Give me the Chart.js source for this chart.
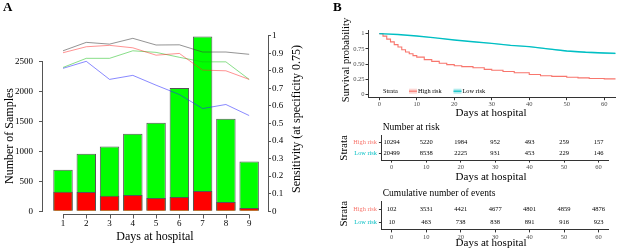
<!DOCTYPE html>
<html>
<head>
<meta charset="utf-8">
<script src="https://cdn.jsdelivr.net/npm/chart.js@4.4.1/dist/chart.umd.min.js"></script>
<style>
html, body { margin: 0; padding: 0; background: #fff; width: 617px; height: 251px; overflow: hidden; }
canvas { position: absolute; }
</style>
</head>
<body>
<canvas id="panelA" width="310" height="251" style="left:0;top:0"></canvas>
<canvas id="kmPlot" width="300" height="120" style="left:332px;top:0"></canvas>
<canvas id="riskTable" width="290" height="64" style="left:332px;top:118px"></canvas>
<canvas id="eventTable" width="290" height="68" style="left:332px;top:183px"></canvas>
<script>
// panel A
var days = [1, 2, 3, 4, 5, 6, 7, 8, 9];
var totalSamples = [692, 958, 1080, 1292, 1475, 2053, 2910, 1542, 830];
var redSamples = [325, 320, 258, 270, 220, 237, 337, 153, 53];
var sensGrey = [0.914, 0.962, 0.952, 0.985, 0.947, 0.948, 0.907, 0.907, 0.894];
var sensRed = [0.903, 0.937, 0.945, 0.931, 0.889, 0.899, 0.804, 0.800, 0.751];
var sensGreen = [0.819, 0.871, 0.871, 0.914, 0.905, 0.877, 0.851, 0.851, 0.751];
var sensBlue = [0.814, 0.854, 0.751, 0.774, 0.718, 0.665, 0.585, 0.608, 0.545];
var sampleTicks = [0, 500, 1000, 1500, 2000, 2500];

// panel B, survival curves
var highDays = [0, 1, 2, 3, 4, 5, 6, 7, 8, 9, 10, 12, 14, 16, 18, 20, 22, 25, 28, 30, 33, 36, 40, 43, 46, 50, 53, 56, 60, 64];
var highSurv = [1, 0.96, 0.91, 0.865, 0.82, 0.78, 0.735, 0.70, 0.67, 0.64, 0.615, 0.575, 0.545, 0.515, 0.492, 0.475, 0.46, 0.44, 0.415, 0.40, 0.38, 0.36, 0.33, 0.31, 0.30, 0.285, 0.275, 0.265, 0.258, 0.252];
var lowDays = [0, 5, 10, 15, 20, 25, 30, 35, 40, 45, 50, 55, 60, 64];
var lowSurv = [1, 0.985, 0.962, 0.93, 0.897, 0.868, 0.84, 0.808, 0.787, 0.75, 0.716, 0.695, 0.682, 0.675];
var bandDays = [0, 10, 20, 30, 40, 50, 60, 64];
var lowUpper = [1, 0.965, 0.901, 0.846, 0.795, 0.727, 0.696, 0.691];
var lowLower = [1, 0.959, 0.893, 0.834, 0.779, 0.705, 0.668, 0.659];
var survTicks = [0, 0.25, 0.5, 0.75, 1];
var survLabels = ['0', '0.25', '0.50', '0.75', '1'];

// panel B, tables
var tableDays = [0, 10, 20, 30, 40, 50, 60];
var strata = ['High risk', 'Low risk'];
var atRiskHigh = [10294, 5220, 1984, 952, 493, 259, 157];
var atRiskLow = [20499, 8538, 2225, 931, 453, 229, 146];
var eventsHigh = [102, 3531, 4421, 4677, 4801, 4859, 4876];
var eventsLow = [10, 463, 738, 838, 891, 916, 923];

var F = '"Liberation Serif", "Times New Roman", serif';
var HIGH = '#F8766D', LOW = '#00BFC4';

function pts(xs, ys) {
  return xs.map(function(x, i) { return {x: x, y: ys[i]}; });
}

// free text (titles, letters) in page coordinates
function notes(items, offX, offY) {
  return {
    id: 'notes',
    afterDraw: function(chart) {
      var ctx = chart.ctx;
      items.forEach(function(t) {
        ctx.save();
        ctx.font = t.font;
        ctx.fillStyle = t.color || '#000';
        ctx.textAlign = t.align || 'center';
        ctx.textBaseline = 'middle';
        ctx.translate(t.x - offX, t.y - offY);
        if (t.rot) ctx.rotate(t.rot);
        ctx.fillText(t.text, 0, 0);
        ctx.restore();
      });
    }
  };
}

// R style axis lines that stop at the first and last tick
var baseAxes = {
  id: 'baseAxes',
  afterDraw: function(chart) {
    var ctx = chart.ctx, a = chart.chartArea;
    var x = chart.scales.x, y = chart.scales.y, y1 = chart.scales.y1;
    ctx.save();
    ctx.strokeStyle = '#555';
    ctx.lineWidth = 1;
    ctx.beginPath();
    var lx = Math.round(a.left) - 0.5;
    ctx.moveTo(lx, y.getPixelForValue(sampleTicks[0]));
    ctx.lineTo(lx, y.getPixelForValue(sampleTicks[sampleTicks.length - 1]));
    var rx = Math.round(a.right) + 0.5;
    ctx.moveTo(rx, y1.getPixelForValue(0));
    ctx.lineTo(rx, y1.getPixelForValue(1));
    var by = Math.round(a.bottom) + 3.5;
    ctx.moveTo(x.getPixelForValue(days[0]), by);
    ctx.lineTo(x.getPixelForValue(days[days.length - 1]), by);
    days.forEach(function(d) {
      var px = Math.round(x.getPixelForValue(d)) + 0.5;
      ctx.moveTo(px, by);
      ctx.lineTo(px, by + 4);
    });
    ctx.stroke();
    ctx.restore();
  }
};

var tickFontA = {family: F, size: 9};

new Chart(document.getElementById('panelA'), {
  type: 'bar',
  data: {
    datasets: [
      {type: 'line', data: pts(days, sensGrey), yAxisID: 'y1', borderColor: 'rgba(60,60,60,0.55)', borderWidth: 1, pointRadius: 0, order: 0},
      {type: 'line', data: pts(days, sensRed), yAxisID: 'y1', borderColor: 'rgba(255,40,40,0.5)', borderWidth: 1, pointRadius: 0, order: 0},
      {type: 'line', data: pts(days, sensGreen), yAxisID: 'y1', borderColor: 'rgba(20,190,20,0.5)', borderWidth: 1, pointRadius: 0, order: 0},
      {type: 'line', data: pts(days, sensBlue), yAxisID: 'y1', borderColor: 'rgba(40,40,255,0.55)', borderWidth: 1, pointRadius: 0, order: 0},
      {type: 'bar', data: pts(days, redSamples), yAxisID: 'y', backgroundColor: '#ff0000', borderColor: '#555', borderWidth: 1, grouped: false, order: 1},
      {type: 'bar', data: pts(days, totalSamples), yAxisID: 'y', backgroundColor: '#00ff00', borderColor: '#555', borderWidth: 1, grouped: false, order: 2}
    ]
  },
  options: {
    responsive: false,
    animation: false,
    layout: {padding: {top: 35.7, left: 0, right: 0, bottom: 0}},
    plugins: {legend: {display: false}, tooltip: {enabled: false}},
    datasets: {bar: {categoryPercentage: 1, barPercentage: 0.835}},
    scales: {
      x: {
        type: 'linear', min: 0.14, max: 9.81, offset: false,
        afterBuildTicks: function(s) { s.ticks = days.map(function(d) { return {value: d}; }); },
        ticks: {font: tickFontA, color: '#000', padding: 7, maxRotation: 0, callback: function(v) { return String(v); }},
        grid: {display: false, drawTicks: false, offset: false},
        border: {display: false},
        afterFit: function(s) { s.height = 39.8; }
      },
      y: {
        position: 'left', min: 0, max: 2925,
        afterBuildTicks: function(s) { s.ticks = sampleTicks.map(function(v) { return {value: v}; }); },
        ticks: {font: tickFontA, color: '#000', padding: 6, callback: function(v) { return String(v); }},
        grid: {drawOnChartArea: false, tickLength: 4, color: '#555'},
        border: {display: false},
        afterFit: function(s) { s.width = 43; }
      },
      y1: {
        position: 'right', min: 0, max: 1,
        ticks: {stepSize: 0.1, font: tickFontA, color: '#000', padding: 1, callback: function(v) { return String(Math.round(v * 10) / 10); }},
        grid: {drawOnChartArea: false, tickLength: 3, color: '#555'},
        border: {display: false},
        afterFit: function(s) { s.width = 42; }
      }
    }
  },
  plugins: [baseAxes, notes([
    {text: 'A', x: 3, y: 8, font: 'bold 13px ' + F, align: 'left'},
    {text: 'Number of Samples', x: 10, y: 136, rot: -Math.PI / 2, font: '12px ' + F},
    {text: 'Sensitivity (at specificity 0.75)', x: 297, y: 119, rot: -Math.PI / 2, font: '12px ' + F},
    {text: 'Days at hospital', x: 155, y: 237, font: '12px ' + F}
  ], 0, 0)]
});

// Kaplan-Meier curves
var smallTick = {family: F, size: 6.5};

var kmLegend = {
  id: 'kmLegend',
  afterDraw: function(chart) {
    var ctx = chart.ctx, a = chart.chartArea;
    var ly = a.bottom - 6.5;
    var lx = a.left + 15;
    ctx.save();
    ctx.font = '6.3px ' + F;
    ctx.textBaseline = 'middle';
    ctx.fillStyle = '#000';
    ctx.fillText('Strata', lx, ly);
    var keys = [[HIGH, 'rgba(248,118,109,0.3)', strata[0], lx + 26], [LOW, 'rgba(0,191,196,0.3)', strata[1], lx + 70.5]];
    keys.forEach(function(k) {
      ctx.fillStyle = k[1];
      ctx.fillRect(k[3], ly - 2.5, 8, 5);
      ctx.strokeStyle = k[0];
      ctx.lineWidth = 1.2;
      ctx.beginPath();
      ctx.moveTo(k[3], ly);
      ctx.lineTo(k[3] + 8, ly);
      ctx.stroke();
      ctx.fillStyle = '#000';
      ctx.fillText(k[2], k[3] + 9, ly);
    });
    ctx.restore();
  }
};

new Chart(document.getElementById('kmPlot'), {
  type: 'line',
  data: {
    datasets: [
      {data: pts(bandDays, lowUpper), borderWidth: 0, pointRadius: 0, fill: '+1', backgroundColor: 'rgba(0,191,196,0.3)'},
      {data: pts(bandDays, lowLower), borderWidth: 0, pointRadius: 0, fill: false},
      {data: pts(lowDays, lowSurv), borderColor: LOW, borderWidth: 1.4, pointRadius: 0, fill: false},
      {data: pts(highDays, highSurv), borderColor: HIGH, borderWidth: 1.1, pointRadius: 0, stepped: true, fill: false}
    ]
  },
  options: {
    responsive: false,
    animation: false,
    layout: {padding: {top: 30.6, right: 16.5, left: 0, bottom: 0}},
    plugins: {legend: {display: false}, tooltip: {enabled: false}},
    scales: {
      x: {
        type: 'linear', min: -3, max: 63,
        afterBuildTicks: function(s) { s.ticks = tableDays.map(function(d) { return {value: d}; }); },
        ticks: {font: smallTick, color: '#4d4d4d', padding: 0, maxRotation: 0},
        grid: {drawOnChartArea: false, tickLength: 2.5, color: '#333'},
        border: {color: '#333', width: 1},
        afterFit: function(s) { s.height = 22.3; }
      },
      y: {
        min: -0.05, max: 1.05,
        afterBuildTicks: function(s) { s.ticks = survTicks.map(function(v) { return {value: v}; }); },
        ticks: {font: smallTick, color: '#4d4d4d', padding: 1, callback: function(v, i) { return survLabels[i]; }},
        grid: {drawOnChartArea: false, tickLength: 2.5, color: '#333'},
        border: {color: '#333', width: 1},
        afterFit: function(s) { s.width = 36; }
      }
    }
  },
  plugins: [kmLegend, notes([
    {text: 'B', x: 333, y: 8, font: 'bold 13px ' + F, align: 'left'},
    {text: 'Survival probability', x: 346, y: 60, rot: -Math.PI / 2, font: '10.5px ' + F},
    {text: 'Days at hospital', x: 491, y: 112.7, font: '11px ' + F}
  ], 332, 0)]
});

// risk tables: numbers sit on scatter points placed by the scales
var cellText = {
  id: 'cellText',
  afterDatasetsDraw: function(chart) {
    var ctx = chart.ctx;
    ctx.save();
    ctx.font = '6.5px ' + F;
    ctx.fillStyle = '#000';
    ctx.textAlign = 'center';
    ctx.textBaseline = 'middle';
    chart.data.datasets.forEach(function(ds, i) {
      chart.getDatasetMeta(i).data.forEach(function(el, j) {
        ctx.fillText(String(ds.data[j].v), el.x, el.y);
      });
    });
    ctx.restore();
  }
};

function makeTable(id, highVals, lowVals, padTop, xHeight, top, title) {
  var rowH = tableDays.map(function(d, i) { return {x: d, y: 0, v: highVals[i]}; });
  var rowL = tableDays.map(function(d, i) { return {x: d, y: 1, v: lowVals[i]}; });
  return new Chart(document.getElementById(id), {
    type: 'scatter',
    data: {datasets: [{data: rowH, pointRadius: 0}, {data: rowL, pointRadius: 0}]},
    options: {
      responsive: false,
      animation: false,
      layout: {padding: {top: padTop, right: 13.1, left: 0, bottom: 0}},
      plugins: {legend: {display: false}, tooltip: {enabled: false}},
      scales: {
        x: {
          type: 'linear', min: -3, max: 63,
          afterBuildTicks: function(s) { s.ticks = tableDays.map(function(d) { return {value: d}; }); },
          ticks: {font: smallTick, color: '#4d4d4d', padding: 1, maxRotation: 0},
          grid: {drawOnChartArea: false, tickLength: 2.5, color: '#333'},
          border: {color: '#333', width: 1},
          afterFit: function(s) { s.height = xHeight; }
        },
        y: {
          min: -0.6, max: 1.6, reverse: true,
          afterBuildTicks: function(s) { s.ticks = [{value: 0}, {value: 1}]; },
          ticks: {
            font: {family: F, size: 6.3}, padding: 2,
            color: function(c) { return c.tick && c.tick.value === 0 ? HIGH : LOW; },
            callback: function(v) { return strata[v]; }
          },
          grid: {drawOnChartArea: false, tickLength: 2.5, color: '#333'},
          border: {color: '#333', width: 1},
          afterFit: function(s) { s.width = 49.4; }
        }
      }
    },
    plugins: [cellText, notes([
      {text: title, x: 382.7, y: top + padTop - 8.5, font: '9.5px ' + F, align: 'left'},
      {text: 'Strata', x: 344, y: top + padTop + 12, rot: -Math.PI / 2, font: '11px ' + F},
      {text: 'Days at hospital', x: 491, y: top + padTop + 41.6, font: '11px ' + F}
    ], 332, top)]
  });
}

makeTable('riskTable', atRiskHigh, atRiskLow, 17.9, 21.9, 118, 'Number at risk');
makeTable('eventTable', eventsHigh, eventsLow, 18.7, 21.1, 183, 'Cumulative number of events');
</script>
</body>
</html>
